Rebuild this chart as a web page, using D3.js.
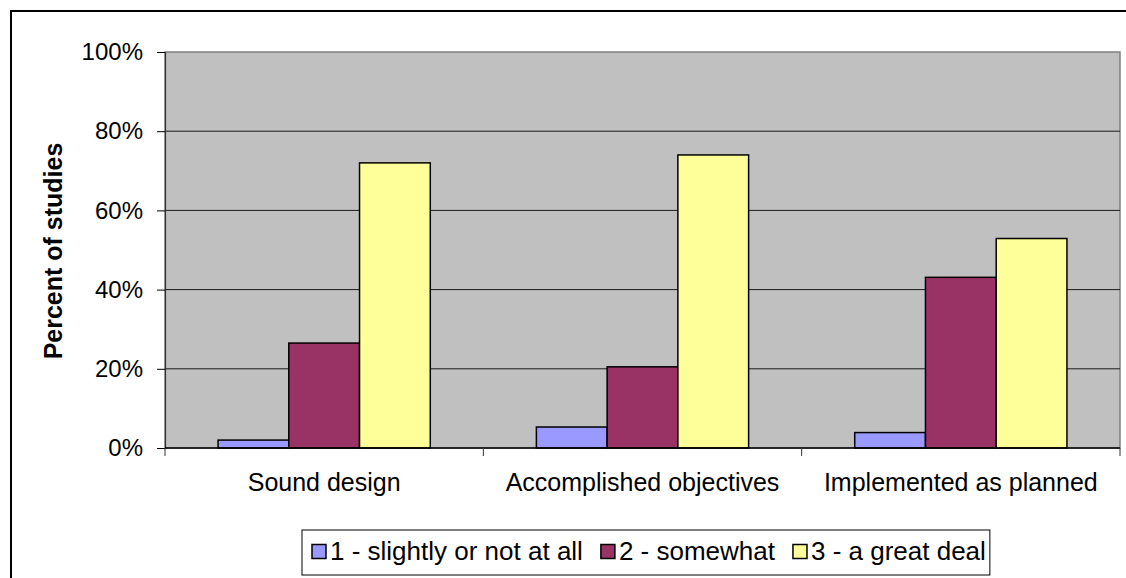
<!DOCTYPE html>
<html>
<head>
<meta charset="utf-8">
<script src="https://cdn.jsdelivr.net/npm/d3@7"></script>
<style>
  html, body { margin: 0; padding: 0; background: #fff; }
  svg { display: block; font-family: "Liberation Sans", Arial, sans-serif; }
</style>
</head>
<body>
<svg id="chart" width="1126" height="578"></svg>
<script>
// ---- data ----
const categories = ["Sound design", "Accomplished objectives", "Implemented as planned"];
const seriesNames = ["1 - slightly or not at all", "2 - somewhat", "3 - a great deal"];
const seriesColors = ["#9999FF", "#993366", "#FFFF99"];
const slightly = [2.0, 5.3, 3.9];
const somewhat = [26.5, 20.5, 43.1];
const greatDeal = [72.0, 74.0, 52.9];
const tickValues = [0, 20, 40, 60, 80, 100];
const tickLabels = ["0%", "20%", "40%", "60%", "80%", "100%"];
const yTitle = "Percent of studies";

const seriesValues = [slightly, somewhat, greatDeal];

const svg = d3.select("#chart");
const plot = { left: 165, right: 1120, top: 52, bottom: 448 };

// outer border
svg.append("rect")
  .attr("x", 11).attr("y", 11).attr("width", 1140).attr("height", 600)
  .attr("fill", "#fff").attr("stroke", "#000").attr("stroke-width", 2);

const x0 = d3.scaleBand().domain(categories).range([plot.left, plot.right]).padding(0);
const x1 = d3.scaleBand().domain(seriesNames).range([0, x0.bandwidth()])
  .paddingInner(0).paddingOuter(0.75);
const y = d3.scaleLinear().domain([0, 100]).range([plot.bottom, plot.top]);

// plot background
svg.append("rect")
  .attr("x", plot.left).attr("y", plot.top)
  .attr("width", plot.right - plot.left).attr("height", plot.bottom - plot.top)
  .attr("fill", "#C0C0C0").attr("stroke", "#808080").attr("stroke-width", 1.5);

// gridlines
svg.append("g").selectAll("line")
  .data(tickValues.filter(v => v > 0 && v < 100))
  .join("line")
  .attr("x1", plot.left).attr("x2", plot.right)
  .attr("y1", d => y(d)).attr("y2", d => y(d))
  .attr("stroke", "#1a1a1a").attr("stroke-width", 1);

// bars
const groups = svg.append("g").selectAll("g")
  .data(categories)
  .join("g")
  .attr("transform", d => `translate(${x0(d)},0)`);

groups.selectAll("rect")
  .data((c, ci) => seriesNames.map((s, si) => ({ s, si, v: seriesValues[si][ci] })))
  .join("rect")
  .attr("x", d => x1(d.s))
  .attr("y", d => y(d.v))
  .attr("width", x1.bandwidth())
  .attr("height", d => y(0) - y(d.v))
  .attr("fill", d => seriesColors[d.si])
  .attr("stroke", "#000").attr("stroke-width", 1.5);

// y axis
const yAxis = d3.axisLeft(y)
  .tickValues(tickValues)
  .tickFormat((d, i) => tickLabels[i])
  .tickSize(8).tickPadding(14);
const yg = svg.append("g").attr("transform", `translate(${plot.left},0)`).call(yAxis);
yg.select(".domain").attr("stroke", "#333").attr("stroke-width", 1.2);
yg.selectAll(".tick line").attr("stroke", "#000");
yg.selectAll(".tick text")
  .attr("font-size", 24).attr("fill", "#000")
  .attr("font-family", "'Liberation Sans', Arial, sans-serif");

// x axis
const boundaries = [plot.left].concat(categories.map(c => x0(c) + x0.bandwidth()));
const xAxisG = svg.append("g");
xAxisG.append("line")
  .attr("x1", plot.left).attr("x2", plot.right)
  .attr("y1", plot.bottom).attr("y2", plot.bottom)
  .attr("stroke", "#000").attr("stroke-width", 1.5);
xAxisG.selectAll("line.tk")
  .data(boundaries)
  .join("line").attr("class", "tk")
  .attr("x1", d => d).attr("x2", d => d)
  .attr("y1", plot.bottom).attr("y2", plot.bottom + 8)
  .attr("stroke", "#333").attr("stroke-width", 1);
xAxisG.selectAll("text")
  .data(categories)
  .join("text")
  .attr("x", d => x0(d) + x0.bandwidth() / 2)
  .attr("y", 491)
  .attr("text-anchor", "middle")
  .attr("font-size", 25)
  .attr("fill", "#000")
  .text(d => d);

// y title
svg.append("text")
  .attr("transform", `translate(62, ${(plot.top + plot.bottom) / 2 + 1}) rotate(-90)`)
  .attr("text-anchor", "middle")
  .attr("font-size", 25)
  .attr("font-weight", "bold")
  .attr("fill", "#000")
  .text(yTitle);

// legend
const legend = svg.append("g");
const legendBox = legend.append("rect")
  .attr("x", 302).attr("y", 530).attr("height", 45)
  .attr("fill", "#fff").attr("stroke", "#000").attr("stroke-width", 1);

let lx = 312;
let lastEnd = lx;
seriesNames.forEach((name, i) => {
  legend.append("rect")
    .attr("x", lx).attr("y", 544.5).attr("width", 14).attr("height", 14)
    .attr("fill", seriesColors[i]).attr("stroke", "#000").attr("stroke-width", 1.5);
  const t = legend.append("text")
    .attr("x", lx + 18).attr("y", 559.5)
    .attr("font-size", 26).attr("fill", "#000")
    .text(name);
  const w = t.node().getComputedTextLength();
  lastEnd = lx + 18 + w;
  lx = lastEnd + 18;
});
legendBox.attr("width", lastEnd + 4 - 302);
</script>
</body>
</html>
